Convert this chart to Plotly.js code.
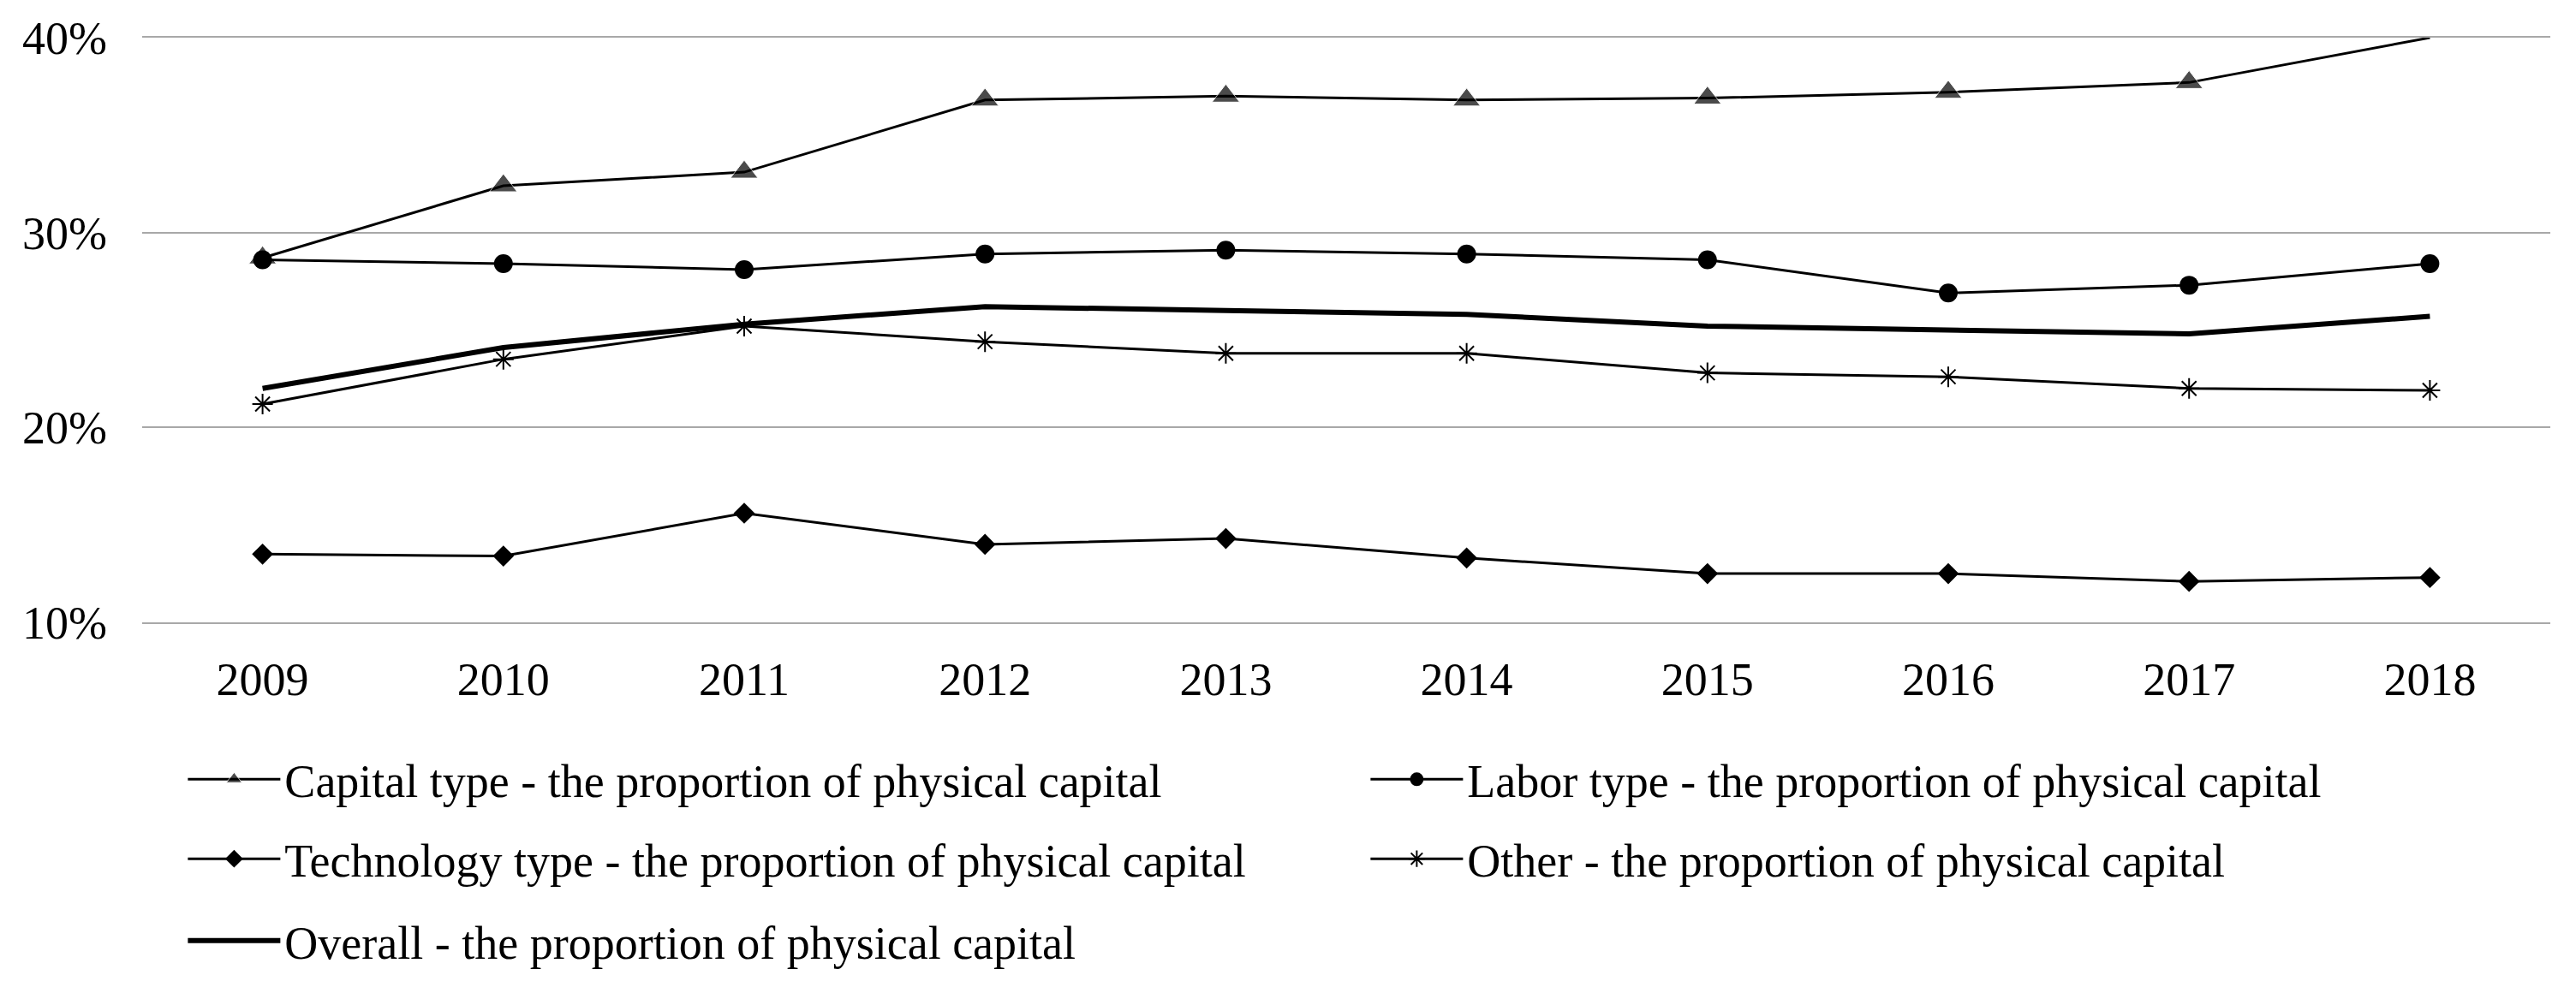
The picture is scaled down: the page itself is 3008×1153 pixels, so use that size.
<!DOCTYPE html>
<html>
<head>
<meta charset="utf-8">
<script src="https://cdn.plot.ly/plotly-3.0.1.min.js"></script>
<style>html,body{margin:0;padding:0;background:#fff;}#chart{width:3008px;height:1153px;}</style>
</head>
<body>
<div id="chart"></div>
<script>
const years = ['2009','2010','2011','2012','2013','2014','2015','2016','2017','2018'];
const capitalType = [28.7, 32.4, 33.1, 36.8, 37.0, 36.8, 36.9, 37.2, 37.7, 40.0];
const laborType = [28.6, 28.4, 28.1, 28.9, 29.1, 28.9, 28.6, 26.9, 27.3, 28.4];
const technologyType = [13.5, 13.4, 15.6, 14.0, 14.3, 13.3, 12.5, 12.5, 12.1, 12.3];
const otherType = [21.2, 23.5, 25.2, 24.4, 23.8, 23.8, 22.8, 22.6, 22.0, 21.9];
const overall = [22.0, 24.1, 25.3, 26.2, 26.0, 25.8, 25.2, 25.0, 24.8, 25.7];
const seriesNames = [
  'Capital type - the proportion of physical capital',
  'Labor type - the proportion of physical capital',
  'Technology type - the proportion of physical capital',
  'Other - the proportion of physical capital',
  'Overall - the proportion of physical capital'
];

const FONT = 'Liberation Serif, Times New Roman, serif';
const capSizes = capitalType.map((v, i) => i === capitalType.length - 1 ? 0 : 28);

const traces = [
  {x: years, y: capitalType, name: seriesNames[0], type: 'scatter', mode: 'lines+markers',
   line: {color: '#000', width: 3}, marker: {symbol: 'triangle-up', size: capSizes, color: '#000'}, legend: 'legend'},
  {x: years, y: laborType, name: seriesNames[1], type: 'scatter', mode: 'lines+markers',
   line: {color: '#000', width: 3}, marker: {symbol: 'circle', size: 22, color: '#000'}, legend: 'legend'},
  {x: years, y: technologyType, name: seriesNames[2], type: 'scatter', mode: 'lines+markers',
   line: {color: '#000', width: 3}, marker: {symbol: 'diamond', size: 19, color: '#000'}, legend: 'legend2'},
  {x: years, y: otherType, name: seriesNames[3], type: 'scatter', mode: 'lines+markers',
   line: {color: '#000', width: 3}, marker: {symbol: 'asterisk-open', size: 20, color: '#000', line: {color: '#000', width: 2}}, legend: 'legend2'},
  {x: years, y: overall, name: seriesNames[4], type: 'scatter', mode: 'lines',
   line: {color: '#000', width: 6}, legend: 'legend3'}
];

const legendBase = {
  orientation: 'h', xanchor: 'left', yanchor: 'middle', x: 0.0172,
  font: {family: FONT, size: 54, color: '#000'},
  bgcolor: 'rgba(0,0,0,0)', borderwidth: 0,
  entrywidth: 1258, entrywidthmode: 'pixels', itemwidth: 108, traceorder: 'normal'
};

const layout = {
  width: 3008, height: 1153,
  margin: {l: 166, r: 30, t: 44, b: 426},
  paper_bgcolor: '#fff', plot_bgcolor: '#fff',
  font: {family: FONT, size: 54, color: '#000'},
  showlegend: true,
  xaxis: {
    type: 'category', range: [-0.5, 9.5], showgrid: false, zeroline: false,
    showline: true, mirror: true, linecolor: '#a8a8a8', linewidth: 2,
    ticks: '', ticklabelstandoff: 18,
    tickfont: {family: FONT, size: 54, color: '#000'}
  },
  yaxis: {
    range: [10, 40], dtick: 10, tick0: 0, ticksuffix: '%',
    showgrid: true, gridcolor: '#a8a8a8', gridwidth: 2, zeroline: false,
    showline: false, ticks: '', ticklabelstandoff: 40,
    tickfont: {family: FONT, size: 54, color: '#000'}
  },
  legend: Object.assign({}, legendBase, {y: -0.269}),
  legend2: Object.assign({}, legendBase, {y: -0.405}),
  legend3: Object.assign({}, legendBase, {y: -0.545})
};

Plotly.newPlot('chart', traces, layout, {displayModeBar: false, staticPlot: true});
</script>
</body>
</html>
